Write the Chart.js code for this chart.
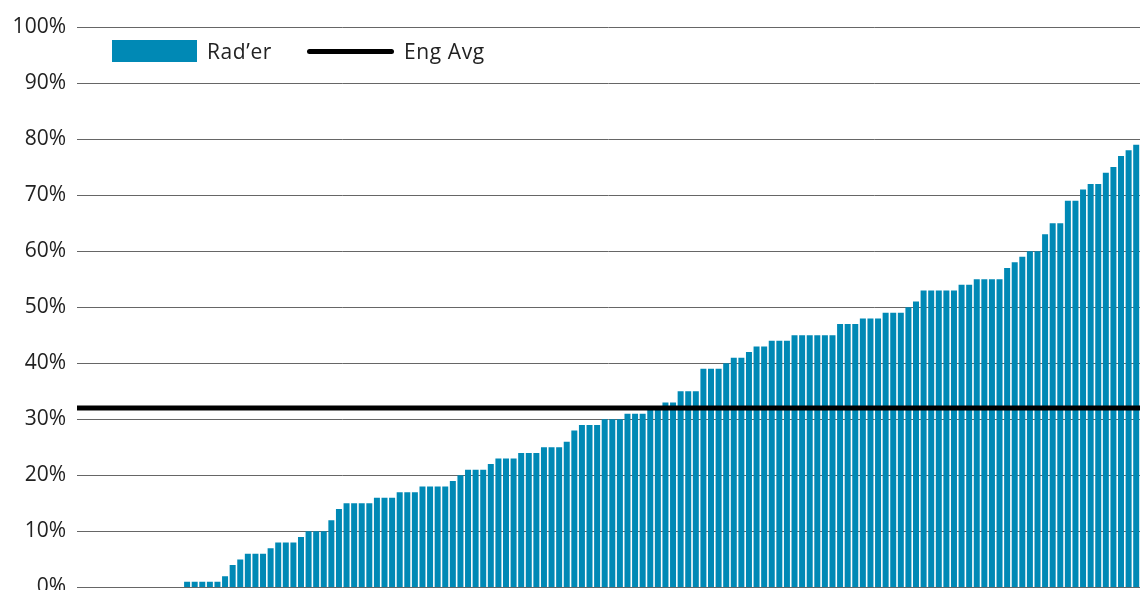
<!DOCTYPE html>
<html>
<head>
<meta charset="utf-8">
<script src="https://cdn.jsdelivr.net/npm/chart.js@4.4.1/dist/chart.umd.min.js"></script>
<style>
    body { margin: 0; background: #fff; }
    #wrap { position: relative; width: 1140px; height: 590px; overflow: hidden; }
    .legend { position: absolute; top: 38px; height: 26px; display: flex; align-items: center;
        font-family: "Open Sans", sans-serif; font-size: 21px; color: #222; letter-spacing: 0.6px; }
    .box { width: 85px; height: 22px; background: #0089b5; margin-right: 10px; }
    .line { width: 87px; height: 5px; border-radius: 3px; background: #000; margin-right: 10px; }
</style>
</head>
<body>
<div id="wrap">
    <!-- canvas is a bit taller than the frame so the 0% label gets clipped like the original -->
    <canvas id="radChart" width="1140" height="611"></canvas>
    <div class="legend" style="left:112px"><div class="box"></div>Rad’er</div>
    <div class="legend" style="left:307px"><div class="line"></div>Eng Avg</div>
</div>
<script>
// Rad'er per person (%), sorted ascending
const radValues = [
    0, 0, 0, 0, 0, 0, 0, 0, 0, 0, 0, 0, 0, 0,
    1, 1, 1, 1, 1, 2, 4, 5, 6, 6, 6, 7, 8, 8, 8, 9, 10, 10, 10, 12, 14,
    15, 15, 15, 15, 16, 16, 16, 17, 17, 17, 18, 18, 18, 18, 19, 20, 21, 21, 21,
    22, 23, 23, 23, 24, 24, 24, 25, 25, 25, 26, 28, 29, 29, 29, 30, 30, 30,
    31, 31, 31, 32, 32, 33, 33, 35, 35, 35, 39, 39, 39, 40, 41, 41, 42, 43, 43,
    44, 44, 44, 45, 45, 45, 45, 45, 45, 47, 47, 47, 48, 48, 48, 49,
    49, 49, 50, 51, 53, 53, 53, 53, 53, 54, 54, 55, 55, 55, 55, 57, 58, 59,
    60, 60, 63, 65, 65, 69, 69, 71, 72, 72, 74, 75, 77, 78, 79
];
const engAvg = 32;
const yTicks = [0, 10, 20, 30, 40, 50, 60, 70, 80, 90, 100];

const labels = radValues.map((v, i) => String(i + 1));
const avgLine = radValues.map(() => engAvg);

const ctx = document.getElementById("radChart");

new Chart(ctx, {
    type: "bar",
    data: {
        labels: labels,
        datasets: [
            {
                type: "line",
                label: "Eng Avg",
                data: avgLine,
                xAxisID: "x2",
                borderColor: "#000",
                borderWidth: 5,
                pointRadius: 0,
                order: 0,
            },
            {
                label: "Rad’er",
                data: radValues,
                backgroundColor: "#0089b5",
                grouped: false,
                categoryPercentage: 1,
                barPercentage: 0.79,
                order: 1,
            },
        ],
    },
    options: {
        responsive: false,
        animation: false,
        layout: {
            autoPadding: false,
            padding: { top: 27, bottom: 3, left: 0, right: 0 },
        },
        plugins: {
            legend: { display: false },
            tooltip: { enabled: false },
        },
        scales: {
            x: { display: false, offset: true },
            x2: { display: false, offset: false },
            y: {
                min: 0,
                max: 100,
                afterFit: (axis) => { axis.width = 77; },
                afterBuildTicks: (axis) => { axis.ticks = yTicks.map((v) => ({ value: v })); },
                border: { display: false },
                grid: { color: "#666", lineWidth: 1, drawTicks: false },
                ticks: {
                    padding: 11,
                    color: "#222",
                    font: { family: "Open Sans", size: 21 },
                    callback: (v) => v + "%",
                },
            },
        },
    },
});
</script>
</body>
</html>
